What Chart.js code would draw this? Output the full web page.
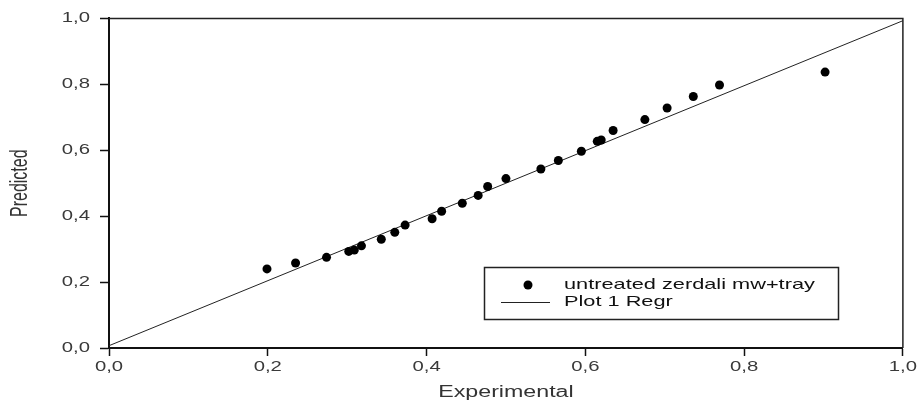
<!DOCTYPE html>
<html><head><meta charset="utf-8">
<script src="https://cdn.jsdelivr.net/npm/chart.js@4.4.1/dist/chart.umd.min.js"></script>
<style>html,body{margin:0;padding:0;background:#fff;}</style>
</head><body>
<canvas id="c" width="920" height="410" style="display:block;width:920px;height:410px"></canvas>
<script>
// ---- data ----
const experimental = [0.199, 0.235, 0.274, 0.302, 0.309, 0.318, 0.343, 0.360, 0.373, 0.407, 0.419, 0.445, 0.465, 0.477, 0.500, 0.544, 0.566, 0.595, 0.615, 0.620, 0.635, 0.675, 0.703, 0.736, 0.769, 0.902];
const predicted    = [0.240, 0.258, 0.275, 0.293, 0.297, 0.310, 0.330, 0.351, 0.373, 0.392, 0.415, 0.439, 0.463, 0.490, 0.514, 0.543, 0.569, 0.597, 0.627, 0.631, 0.660, 0.693, 0.728, 0.763, 0.798, 0.837];
const regrX = [0.0, 1.0];
const regrY = [0.007, 0.993];
const tickValues = [0.0, 0.2, 0.4, 0.6, 0.8, 1.0];
const tickLabels = ['0,0', '0,2', '0,4', '0,6', '0,8', '1,0'];
const seriesNames = ['untreated zerdali mw+tray', 'Plot 1 Regr'];
const xTitle = 'Experimental';
const yTitle = 'Predicted';

Chart.defaults.font.family = '"Liberation Sans", Arial, sans-serif';

// The reference image is horizontally stretched; widen text glyphs horizontally (on screen) to match.
const STRETCH = 1.45;
const stretchPlugin = {
  id: 'stretchText',
  beforeInit(chart) {
    const ctx = chart.ctx;
    if (ctx._stretched) return;
    const origFill = ctx.fillText.bind(ctx);
    const origMeasure = ctx.measureText.bind(ctx);
    const rotated = (c) => { const m = c.getTransform(); return Math.abs(m.b) > 1e-6 || Math.abs(m.c) > 1e-6; };
    ctx.fillText = function (t, x, y) {
      this.save(); this.translate(x, y);
      if (rotated(this)) this.scale(1, STRETCH); else this.scale(STRETCH, 1);
      origFill(t, 0, 0); this.restore();
    };
    ctx.measureText = function (t) {
      const r = origMeasure(t);
      if (rotated(this)) return r;
      return {
        width: r.width * STRETCH,
        actualBoundingBoxAscent: r.actualBoundingBoxAscent,
        actualBoundingBoxDescent: r.actualBoundingBoxDescent,
        actualBoundingBoxLeft: r.actualBoundingBoxLeft * STRETCH,
        actualBoundingBoxRight: r.actualBoundingBoxRight * STRETCH
      };
    };
    ctx._stretched = true;
  }
};

const framePlugin = {
  id: 'frame',
  afterDraw(chart) {
    const {ctx, chartArea: a} = chart;
    ctx.save();
    ctx.strokeStyle = '#222'; ctx.lineWidth = 1.5;
    ctx.beginPath();
    ctx.moveTo(a.left, a.top); ctx.lineTo(a.right, a.top); ctx.lineTo(a.right, a.bottom);
    ctx.stroke();
    ctx.restore();
  }
};

const legendPlugin = {
  id: 'boxLegend',
  afterDraw(chart) {
    const {ctx} = chart;
    const ds0 = chart.data.datasets[0], ds1 = chart.data.datasets[1];
    ctx.save();
    ctx.strokeStyle = '#222'; ctx.lineWidth = 1.5;
    ctx.strokeRect(484.5, 267.5, 354, 52);
    ctx.fillStyle = ds0.backgroundColor;
    ctx.beginPath(); ctx.arc(528, 285, 4.5, 0, Math.PI * 2); ctx.fill();
    ctx.strokeStyle = ds1.borderColor; ctx.lineWidth = 1;
    ctx.beginPath(); ctx.moveTo(501, 302.5); ctx.lineTo(550, 302.5); ctx.stroke();
    ctx.font = '15px "Liberation Sans", Arial, sans-serif';
    ctx.fillStyle = '#111'; ctx.textAlign = 'left'; ctx.textBaseline = 'middle';
    ctx.fillText(ds0.label, 564, 285);
    ctx.fillText(ds1.label, 564, 302);
    ctx.restore();
  }
};

new Chart(document.getElementById('c'), {
  type: 'scatter',
  data: {
    datasets: [
      {
        label: seriesNames[0],
        data: experimental.map((x, i) => ({x: x, y: predicted[i]})),
        backgroundColor: '#000', borderColor: '#000',
        pointRadius: 4.5, pointBorderWidth: 0, showLine: false, order: 0
      },
      {
        type: 'line',
        label: seriesNames[1],
        data: regrX.map((x, i) => ({x: x, y: regrY[i]})),
        borderColor: '#222', borderWidth: 1, pointRadius: 0, fill: false, showLine: true, order: 1
      }
    ]
  },
  options: {
    responsive: false, animation: false, devicePixelRatio: 1,
    layout: {padding: {left: 0, right: 14, top: 13, bottom: 0}},
    plugins: {legend: {display: false}, tooltip: {enabled: false}},
    scales: {
      x: {
        type: 'linear', min: 0, max: 1, position: 'bottom',
        afterFit(s) { s.height = 62; },
        afterBuildTicks(s) { s.ticks = tickValues.map(v => ({value: v})); },
        ticks: {callback: (v, i) => tickLabels[i], font: {size: 14}, color: '#3a3a3a', padding: 3, maxRotation: 0, autoSkip: false},
        grid: {display: true, drawOnChartArea: false, drawTicks: true, tickLength: 8, tickColor: '#111', tickWidth: 1.5},
        border: {display: true, color: '#111', width: 2},
        title: {display: true, text: xTitle, font: {size: 16}, color: '#333', padding: {top: 0, bottom: 8}}
      },
      y: {
        type: 'linear', min: 0, max: 1, position: 'left',
        afterFit(s) { s.width = 109; },
        afterBuildTicks(s) { s.ticks = tickValues.map(v => ({value: v})); },
        ticks: {callback: (v, i) => tickLabels[i], font: {size: 14}, color: '#3a3a3a', padding: 10, autoSkip: false},
        grid: {display: true, drawOnChartArea: false, drawTicks: true, tickLength: 9, tickColor: '#111', tickWidth: 1.5},
        border: {display: true, color: '#111', width: 2},
        title: {display: true, text: yTitle, font: {size: 16}, color: '#333', padding: {top: 11, bottom: 0}}
      }
    }
  },
  plugins: [stretchPlugin, framePlugin, legendPlugin]
});
</script>
</body></html>
